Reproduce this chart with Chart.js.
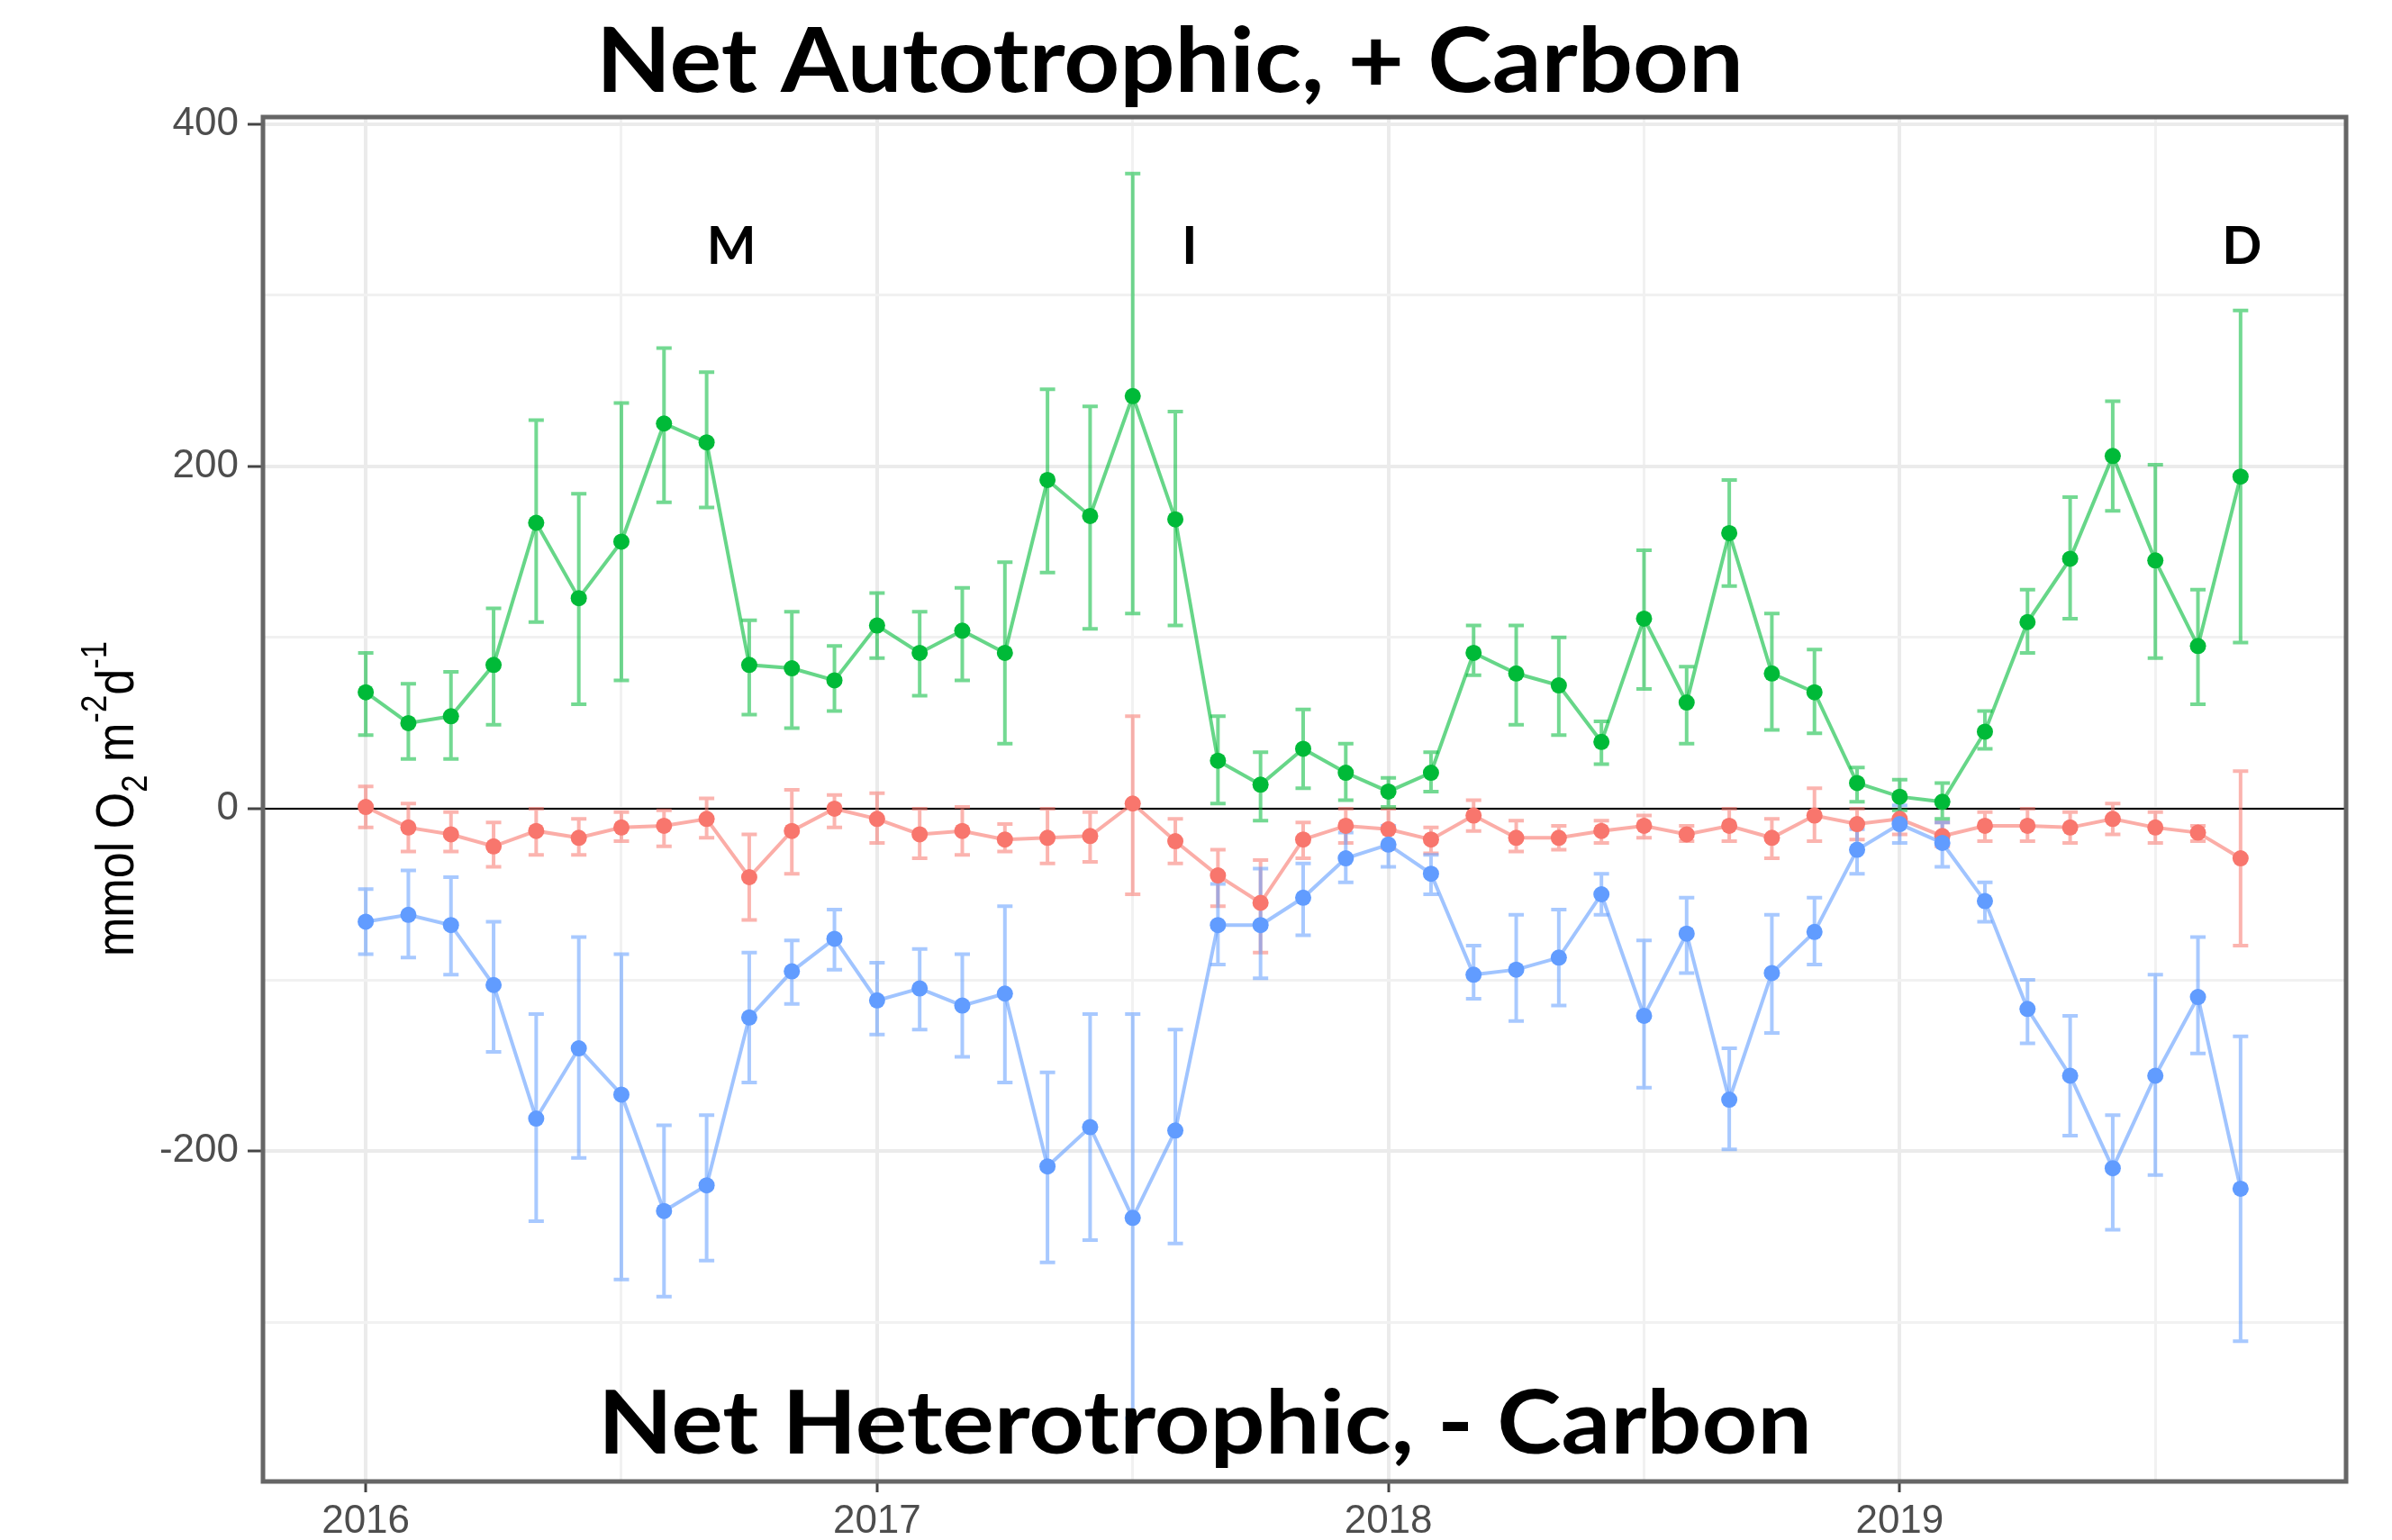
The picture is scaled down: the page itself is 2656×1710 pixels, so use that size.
<!DOCTYPE html>
<html>
<head>
<meta charset="utf-8">
<script src="https://cdn.jsdelivr.net/npm/chart.js@4.4.1/dist/chart.umd.min.js"></script>
<style>
  html, body { margin: 0; padding: 0; background: #fff; }
</style>
</head>
<body>
<canvas id="metab" width="2656" height="1710"></canvas>
<script>
// monthly means with error bar limits
const months = [
  '2016-01','2016-02','2016-03','2016-04','2016-05','2016-06','2016-07','2016-08','2016-09','2016-10','2016-11','2016-12',
  '2017-01','2017-02','2017-03','2017-04','2017-05','2017-06','2017-07','2017-08','2017-09','2017-10','2017-11','2017-12',
  '2018-01','2018-02','2018-03','2018-04','2018-05','2018-06','2018-07','2018-08','2018-09','2018-10','2018-11','2018-12',
  '2019-01','2019-02','2019-03','2019-04','2019-05','2019-06','2019-07','2019-08','2019-09'
];

// green: gross production
const gpp = [68, 50, 54, 84, 167, 123, 156, 225, 214, 84, 82, 75,
  107, 91, 104, 91, 192, 171, 241, 169, 28, 14, 35, 21,
  10, 21, 91, 79, 72, 39, 111, 62, 161, 79, 68, 15,
  7, 4, 45, 109, 146, 206, 145, 95, 194];
const gppHigh = [91, 73, 80, 117, 227, 184, 237, 269, 255, 110, 115, 95,
  126, 115, 129, 144, 245, 235, 371, 232, 54, 33, 58, 38,
  18, 33, 107, 107, 100, 51, 151, 83, 192, 114, 93, 24,
  17, 15, 57, 128, 182, 238, 201, 128, 291];
const gppLow = [43, 29, 29, 49, 109, 61, 75, 179, 176, 55, 47, 57,
  88, 66, 75, 38, 138, 105, 114, 107, 3, -7, 12, 5,
  1, 10, 78, 49, 43, 26, 70, 38, 130, 46, 44, 4,
  -1, -6, 35, 91, 111, 174, 88, 61, 97];

// red: net production
const nep = [1, -11, -15, -22, -13, -17, -11, -10, -6, -40, -13, 0,
  -6, -15, -13, -18, -17, -16, 3, -19, -39, -55, -18, -10,
  -12, -18, -4, -17, -17, -13, -10, -15, -10, -17, -4, -9,
  -6, -16, -10, -10, -11, -6, -11, -14, -29];
const nepHigh = [13, 3, -2, -8, 0, -6, -2, -1, 6, -15, 11, 8,
  9, 0, 1, -9, 0, -2, 54, -6, -24, -30, -8, 0,
  0, -11, 5, -7, -10, -7, -4, -10, 0, -6, 12, 0,
  6, -8, -2, 0, -2, 3, -2, -10, 22];
const nepLow = [-11, -25, -25, -34, -27, -27, -19, -22, -17, -65, -38, -11,
  -20, -29, -27, -25, -32, -31, -50, -32, -57, -84, -29, -20,
  -23, -26, -13, -25, -24, -20, -17, -19, -19, -29, -19, -18,
  -15, -22, -19, -19, -20, -15, -20, -19, -80];

// blue: respiration
const er = [-66, -62, -68, -103, -181, -140, -167, -235, -220, -122, -95, -76,
  -112, -105, -115, -108, -209, -186, -239, -188, -68, -68, -52, -29,
  -21, -38, -97, -94, -87, -50, -121, -73, -170, -96, -72, -24,
  -9, -20, -54, -117, -156, -210, -156, -110, -222];
const erHigh = [-47, -36, -40, -66, -120, -75, -85, -185, -179, -84, -77, -59,
  -90, -82, -85, -57, -154, -120, -120, -129, -44, -35, -32, -14,
  -10, -27, -80, -62, -59, -38, -77, -52, -140, -62, -52, -12,
  2, -8, -43, -100, -121, -179, -97, -75, -133];
const erLow = [-85, -87, -97, -142, -241, -204, -275, -285, -264, -160, -114, -94,
  -132, -129, -145, -160, -265, -252, -356, -254, -91, -99, -74, -43,
  -34, -50, -111, -124, -115, -62, -163, -96, -199, -131, -91, -38,
  -20, -34, -66, -137, -191, -246, -214, -143, -311];

// axis ticks: labelled ones plus the minor grid in between
const xTicks = [2016, 2016.5, 2017, 2017.5, 2018, 2018.5, 2019, 2019.5];
const xLabels = [2016, 2017, 2018, 2019];
const yTicks = [-300, -200, -100, 0, 100, 200, 300, 400];
const yLabels = [-200, 0, 200, 400];

const phaseLabels = ['M', 'I', 'D'];
const phaseX = [2016.715, 2017.611, 2019.669];
const phaseY = [318, 318, 318];

const monthX = months.map(m => {
  const [yr, mo] = m.split('-').map(Number);
  return yr + (mo - 1) / 12;
});

const GREEN = '#00BA38', RED = '#F8766D', BLUE = '#619CFF';

function series(values) {
  return monthX.map((x, i) => ({ x: x, y: values[i] }));
}

// datasets drawn last-first, so green ends on top
const bars = [
  { low: gppLow, high: gppHigh, color: 'rgba(0,186,56,0.55)' },
  { low: erLow, high: erHigh, color: 'rgba(97,156,255,0.55)' },
  { low: nepLow, high: nepHigh, color: 'rgba(248,118,109,0.55)' }
];

const errorBars = {
  id: 'errorBars',
  beforeDatasetsDraw(chart) {
    const { ctx, chartArea, scales: { x, y } } = chart;
    ctx.save();
    ctx.beginPath();
    ctx.rect(chartArea.left, chartArea.top, chartArea.right - chartArea.left, chartArea.bottom - chartArea.top);
    ctx.clip();

    // zero reference line
    const y0 = y.getPixelForValue(0);
    ctx.strokeStyle = '#000';
    ctx.lineWidth = 2;
    ctx.beginPath();
    ctx.moveTo(chartArea.left, y0);
    ctx.lineTo(chartArea.right, y0);
    ctx.stroke();

    ctx.lineWidth = 4;
    // draw bottom series first
    for (let d = bars.length - 1; d >= 0; d--) {
      const b = bars[d];
      ctx.strokeStyle = b.color;
      monthX.forEach((mx, i) => {
        const px = x.getPixelForValue(mx);
        const top = y.getPixelForValue(b.high[i]);
        const bot = y.getPixelForValue(b.low[i]);
        ctx.beginPath();
        ctx.moveTo(px, top); ctx.lineTo(px, bot);
        ctx.moveTo(px - 8.5, top); ctx.lineTo(px + 8.5, top);
        ctx.moveTo(px - 8.5, bot); ctx.lineTo(px + 8.5, bot);
        ctx.stroke();
      });
    }
    ctx.restore();
  }
};

function fitText(ctx, text, font, left, baseline, width) {
  ctx.save();
  ctx.font = font;
  const w = ctx.measureText(text).width;
  ctx.translate(left, baseline);
  ctx.scale(width / w, 1);
  ctx.textAlign = 'left';
  ctx.textBaseline = 'alphabetic';
  ctx.fillText(text, 0, 0);
  ctx.restore();
}

const decorations = {
  id: 'decorations',
  afterDatasetsDraw(chart) {
    const { ctx, chartArea } = chart;
    ctx.save();
    ctx.strokeStyle = '#666';
    ctx.lineWidth = 5;
    ctx.strokeRect(chartArea.left, chartArea.top, chartArea.right - chartArea.left, chartArea.bottom - chartArea.top);
    ctx.restore();
  },
  afterDraw(chart) {
    const { ctx, scales: { x, y } } = chart;
    ctx.save();
    ctx.fillStyle = '#000';

    fitText(ctx, 'Net Autotrophic, + Carbon', 'bold 100px Lato', 662, 102, 1274);
    fitText(ctx, 'Net Heterotrophic, - Carbon', 'bold 98px Lato', 664, 1614, 1348);

    ctx.font = 'bold 58px Lato';
    ctx.textAlign = 'center';
    ctx.textBaseline = 'alphabetic';
    phaseLabels.forEach((t, i) => {
      ctx.fillText(t, x.getPixelForValue(phaseX[i]), y.getPixelForValue(phaseY[i]));
    });

    // y axis title with sub/superscripts
    const parts = [
      { t: 'mmol O', s: 0 }, { t: '2', s: 1 }, { t: ' m', s: 0 },
      { t: '-2', s: -1 }, { t: 'd', s: 0 }, { t: '-1', s: -1 }
    ];
    const mainFont = '60px "Liberation Sans", Arial, sans-serif';
    const smallFont = '40px "Liberation Sans", Arial, sans-serif';
    let total = 0;
    parts.forEach(p => {
      ctx.font = p.s === 0 ? mainFont : smallFont;
      p.w = ctx.measureText(p.t).width;
      total += p.w;
    });
    ctx.translate(148, 887);
    ctx.rotate(-Math.PI / 2);
    ctx.scale(350 / total, 1);
    ctx.textAlign = 'left';
    let cx = -total / 2;
    parts.forEach(p => {
      ctx.font = p.s === 0 ? mainFont : smallFont;
      const off = p.s === 1 ? 15 : (p.s === -1 ? -30 : 0);
      ctx.fillText(p.t, cx, off);
      cx += p.w;
    });
    ctx.restore();
  }
};

const tickFont = { family: '"Liberation Sans", Arial, sans-serif', size: 44 };
const isX = v => xLabels.includes(v);
const isY = v => yLabels.includes(v);

new Chart(document.getElementById('metab'), {
  type: 'line',
  data: {
    datasets: [
      { label: 'GPP', data: series(gpp), borderColor: 'rgba(0,186,56,0.6)', pointBackgroundColor: GREEN },
      { label: 'ER', data: series(er), borderColor: 'rgba(97,156,255,0.6)', pointBackgroundColor: BLUE },
      { label: 'NEP', data: series(nep), borderColor: 'rgba(248,118,109,0.6)', pointBackgroundColor: RED }
    ]
  },
  options: {
    responsive: false,
    animation: false,
    devicePixelRatio: 1,
    elements: {
      line: { borderWidth: 4, tension: 0, fill: false },
      point: { radius: 9, borderWidth: 0, hoverRadius: 9 }
    },
    layout: { padding: { top: 130, right: 51, left: 0, bottom: 0 } },
    plugins: {
      legend: { display: false },
      title: { display: false },
      tooltip: { enabled: false }
    },
    scales: {
      x: {
        type: 'linear',
        min: 2015.799,
        max: 2019.873,
        afterBuildTicks: s => { s.ticks = xTicks.map(v => ({ value: v })); },
        afterFit: s => { s.height = 65; },
        border: { display: false },
        grid: {
          color: c => isX(c.tick.value) ? '#ebebeb' : '#f1f1f1',
          lineWidth: c => isX(c.tick.value) ? 4 : 3,
          tickColor: c => isX(c.tick.value) ? '#444' : 'rgba(0,0,0,0)',
          tickLength: 12,
          tickWidth: 3
        },
        ticks: {
          autoSkip: false,
          maxRotation: 0,
          padding: 6,
          color: '#4d4d4d',
          font: tickFont,
          callback: v => isX(v) ? String(v) : ''
        }
      },
      y: {
        min: -393,
        max: 404,
        afterBuildTicks: s => { s.ticks = yTicks.map(v => ({ value: v })); },
        afterFit: s => { s.width = 292; },
        border: { display: false },
        grid: {
          color: c => isY(c.tick.value) ? '#ebebeb' : '#f1f1f1',
          lineWidth: c => isY(c.tick.value) ? 4 : 3,
          tickColor: c => isY(c.tick.value) ? '#444' : 'rgba(0,0,0,0)',
          tickLength: 17,
          tickWidth: 3
        },
        ticks: {
          autoSkip: false,
          padding: 10,
          color: '#4d4d4d',
          font: tickFont,
          callback: v => isY(v) ? String(v) : ''
        }
      }
    }
  },
  plugins: [errorBars, decorations]
});
</script>
</body>
</html>
